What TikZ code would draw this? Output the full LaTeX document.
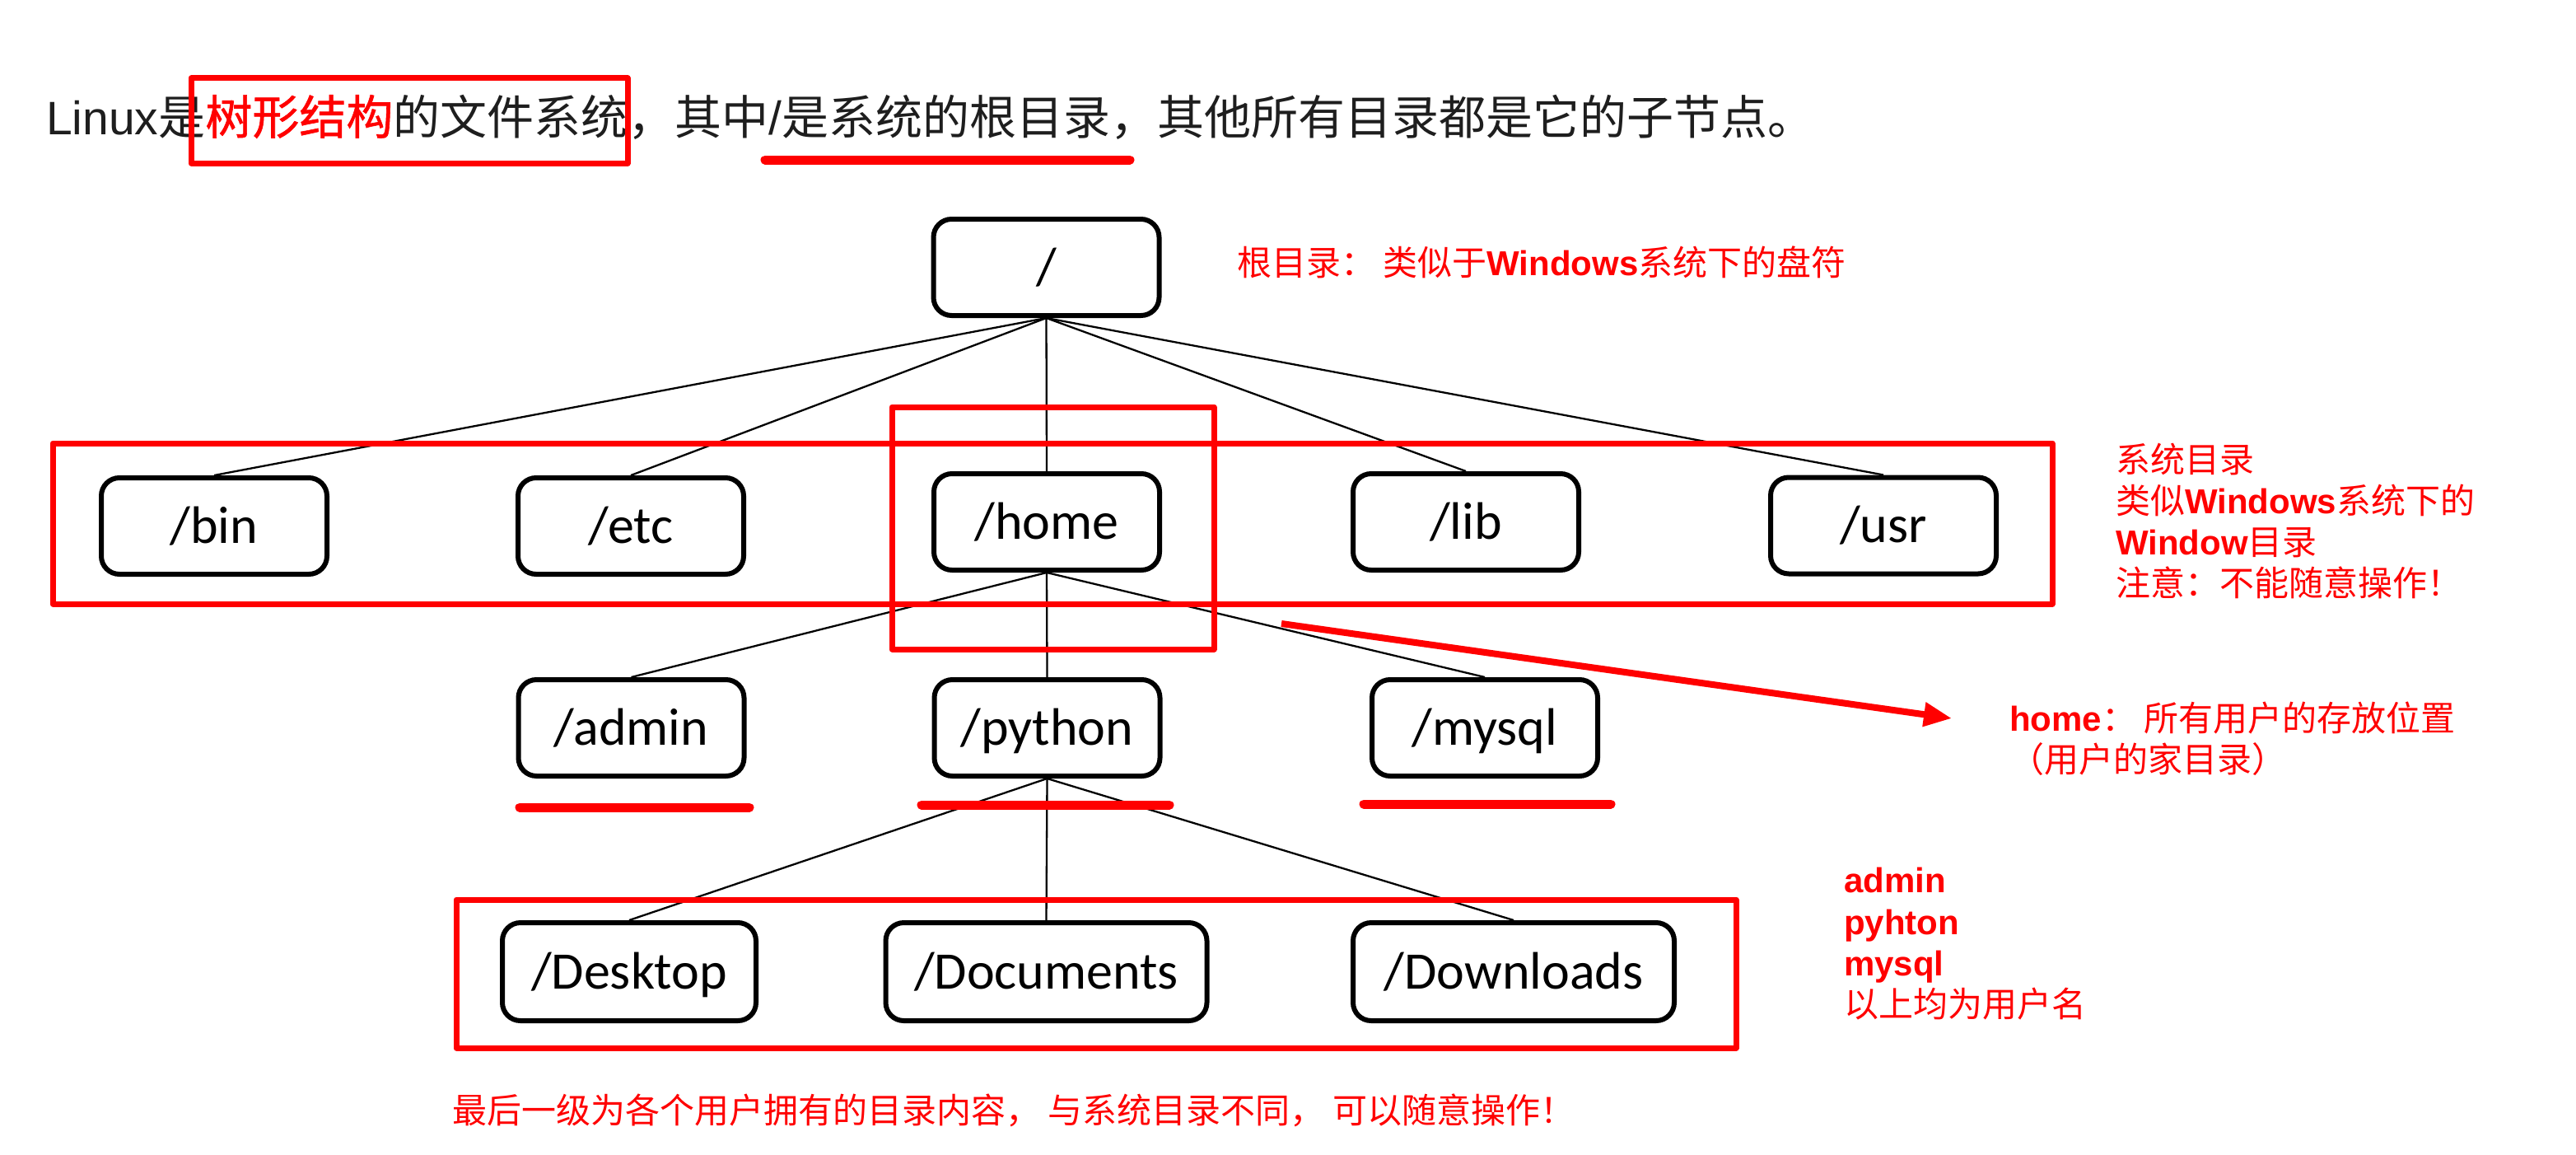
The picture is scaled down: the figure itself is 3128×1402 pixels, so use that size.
\documentclass[tikz,border=0pt]{standalone}
\usepackage{fontspec}
\setmainfont{Carlito}
\newfontfamily\cjk{Noto Sans CJK SC}
\newfontfamily\cjkB{Noto Sans CJK SC}[FakeBold=1]
\newfontfamily\lsans{Liberation Sans}
\usetikzlibrary{arrows.meta}
\definecolor{mkred}{RGB}{255,0,0}
\definecolor{titlegray}{RGB}{30,30,30}
\newcommand{\bw}[1]{{\lsans\bfseries #1}}
\begin{document}
\begin{tikzpicture}[x=1pt,y=-1pt,
  dirbox/.style={draw=black, line width=6pt, rounded corners=22pt, inner sep=0pt,
    minimum width=274pt, minimum height=117pt,
    font=\fontsize{64}{70}\selectfont, text height=41pt, text depth=0pt},
  wideA/.style={dirbox, minimum width=308pt, minimum height=119pt},
  wideB/.style={dirbox, minimum width=390pt, minimum height=119pt},
  conn/.style={draw=black, line width=2.3pt},
  markbox/.style={draw=mkred, line width=7pt, line join=round},
  markline/.style={draw=mkred, line width=11pt, line cap=round},
  redarrow/.style={draw=mkred, line width=8pt, -{Triangle[length=34pt,width=28pt]}},
  note/.style={anchor=base west, inner sep=0pt, text=mkred, font=\fontsize{42}{50}\selectfont\cjk}
]
\fill[white] (0,0) rectangle (3128,1402);
\useasboundingbox (0,0) rectangle (3128,1402);

% title
\node[anchor=base west, inner sep=0pt, text=titlegray, font=\fontsize{57}{60}\selectfont] (title) at (56,163)
  {{\lsans Linux}{\cjk 是}{\cjkB\color{mkred}树形结构}{\cjk 的文件系统，其中}{\lsans /}{\cjk 是系统的根目录，其他所有目录都是它的子节点。}};

% nodes
\node[dirbox] (root) at (1270.5,324.5) {/};
\node[dirbox] (bin)  at (260,638.5) {/bin};
\node[dirbox] (etc)  at (766,638.5) {/etc};
\node[dirbox] (home) at (1271,633.5) {/home};
\node[dirbox] (lib)  at (1780,633.5) {/lib};
\node[dirbox] (usr)  at (2287,638) {/usr};
\node[dirbox] (admin)  at (766.5,883.5) {/admin};
\node[dirbox] (python) at (1271.5,883.5) {/python};
\node[dirbox] (mysql)  at (1803,883.5) {/mysql};
\node[wideA] (desk) at (764,1179.5) {/Desktop};
\node[wideB] (docs) at (1270.5,1179.5) {/Documents};
\node[wideB] (down) at (1838,1179.5) {/Downloads};

% connectors
\foreach \c in {bin,etc,home,lib,usr} \draw[conn] (root.south) -- (\c.north);
\foreach \c in {admin,python,mysql} \draw[conn] (home.south) -- (\c.north);
\foreach \c in {desk,docs,down} \draw[conn] (python.south) -- (\c.north);

% red marks
\draw[markbox] (232,95) rectangle (762,198);
\draw[markline] (929,194) -- (1372,194);
\draw[markbox] (64,538) rectangle (2492,733);
\draw[markbox] (1083,494) rectangle (1474,788);
\draw[markbox] (554,1092) rectangle (2108,1272);
\draw[markline] (631,980) -- (910,980);
\draw[markline] (1119,977) -- (1420,977);
\draw[markline] (1656,976) -- (1956,976);

\coordinate (arrS) at (1556,757);
\coordinate (arrE) at (2370,872);
\draw[redarrow] (arrS) -- (arrE);

% notes
\node[note] (n1) at (1502,334) {根目录： 类似于\bw{Windows}系统下的盘符};
\node[note] (s1) at (2569,573) {系统目录};
\node[note] (s2) at (2569,623) {类似\bw{Windows}系统下的};
\node[note] (s3) at (2569,673) {\bw{Window}目录};
\node[note] (s4) at (2569,723) {注意：不能随意操作！};
\node[note] (h1) at (2440,887) {\bw{home}： 所有用户的存放位置};
\node[note] (h2) at (2440,937) {（用户的家目录）};
\node[note] (u1) at (2239,1083) {\bw{admin}};
\node[note] (u2) at (2239,1134) {\bw{pyhton}};
\node[note] (u3) at (2239,1184) {\bw{mysql}};
\node[note] (u4) at (2239,1234) {以上均为用户名};
\node[note] (b1) at (549,1363) {最后一级为各个用户拥有的目录内容， 与系统目录不同， 可以随意操作！};
\end{tikzpicture}
\end{document}
